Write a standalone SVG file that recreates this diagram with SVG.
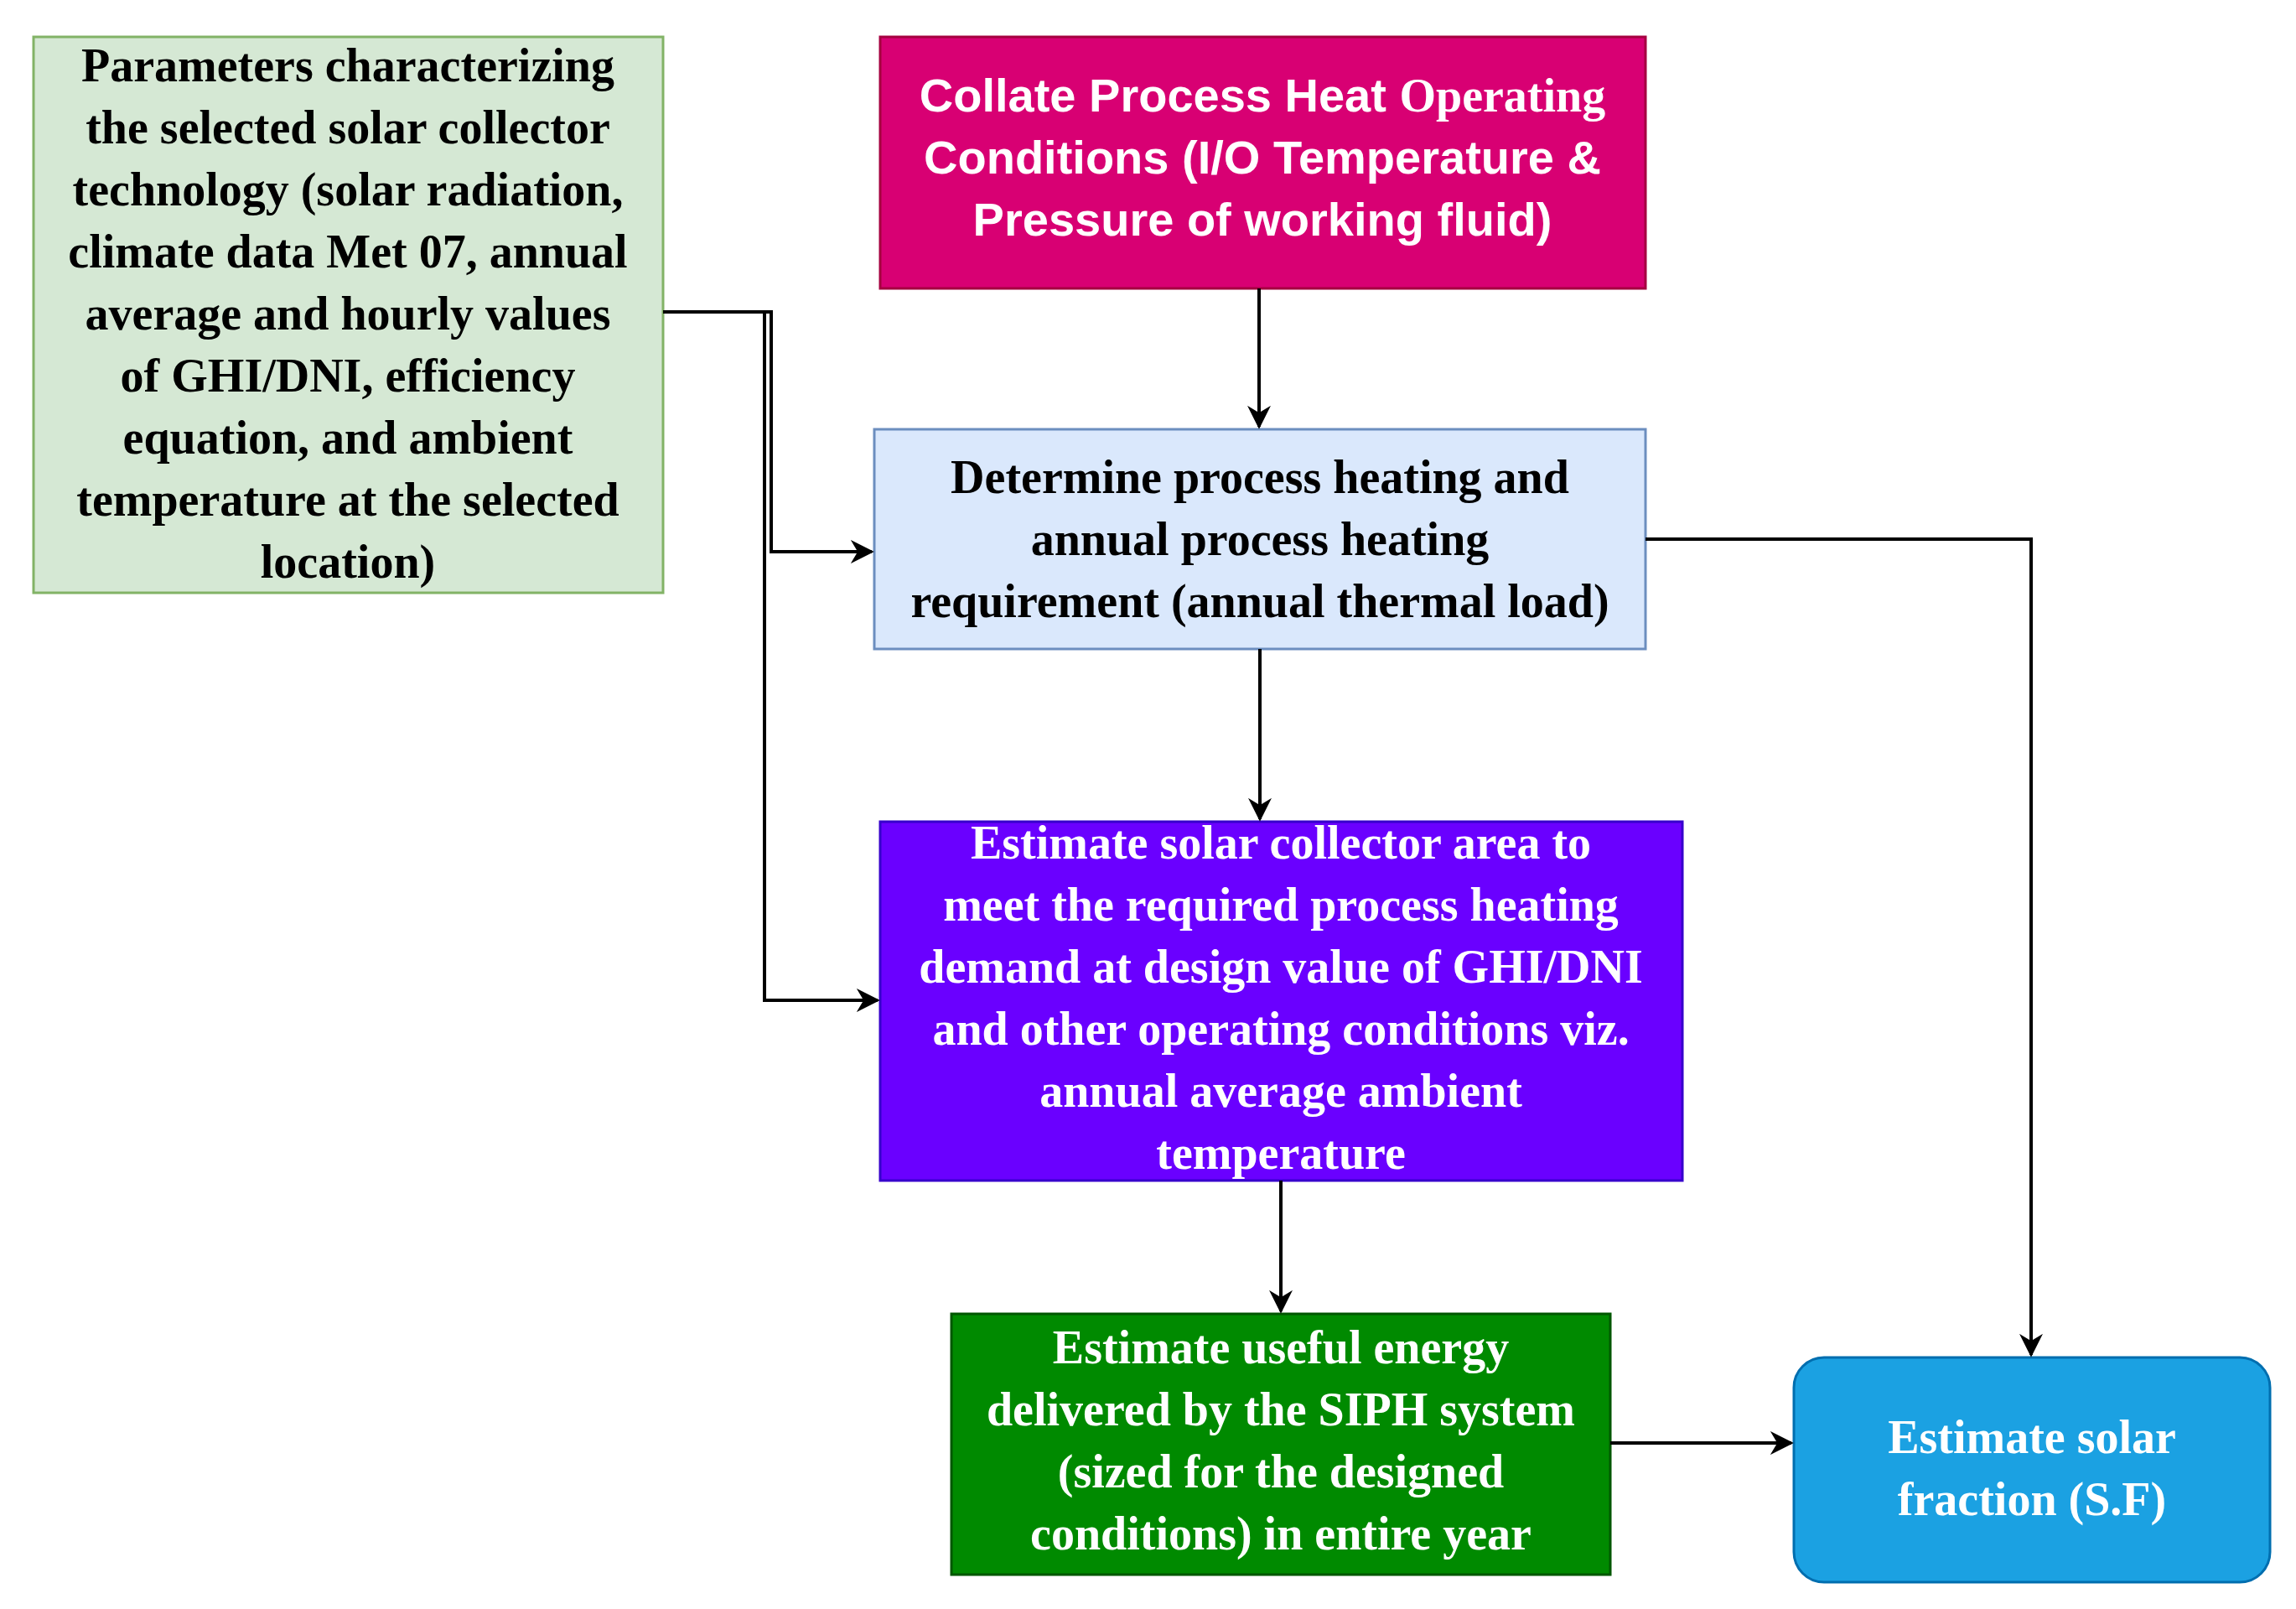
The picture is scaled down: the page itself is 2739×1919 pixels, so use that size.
<svg xmlns="http://www.w3.org/2000/svg" width="2739" height="1919" viewBox="0 0 2739 1919">
<style>
.t{font-family:"Liberation Serif",serif;font-weight:bold;font-size:56px;text-anchor:middle}
.a{font-family:"Liberation Sans",sans-serif;font-weight:bold;font-size:56px;text-anchor:middle;fill:#fff}
.c{fill:none;stroke:#000;stroke-width:4}
</style>
<defs><marker id="m" viewBox="0 0 10 10" refX="9" refY="5" markerWidth="7" markerHeight="7" orient="auto"><path d="M0,0 L10,5 L0,10 L3,5 z" fill="#000"/></marker></defs>
<rect width="2739" height="1919" fill="#fff"/>
<g id="n1"><rect x="40" y="44" width="751" height="663" fill="#d5e8d4" stroke="#82b366" stroke-width="3"/>
<text class="t" x="415"><tspan x="415" y="97">Parameters characterizing</tspan><tspan x="415" y="171">the selected solar collector</tspan><tspan x="415" y="245">technology (solar radiation,</tspan><tspan x="415" y="319">climate data Met 07, annual</tspan><tspan x="415" y="393">average and hourly values</tspan><tspan x="415" y="467">of GHI/DNI, efficiency</tspan><tspan x="415" y="541">equation, and ambient</tspan><tspan x="415" y="615">temperature at the selected</tspan><tspan x="415" y="689">location)</tspan></text></g>
<g id="n2"><rect x="1050" y="44" width="913" height="300" fill="#d80073" stroke="#a50040" stroke-width="3"/>
<text class="a"><tspan x="1506" y="133">Collate Process Heat <tspan font-family="Liberation Serif,serif">Operating</tspan></tspan><tspan x="1506" y="207">Conditions (I/O Temperature &amp;</tspan><tspan x="1506" y="281">Pressure of working fluid)</tspan></text></g>
<g id="n3"><rect x="1043" y="512" width="920" height="262" fill="#dae8fc" stroke="#6c8ebf" stroke-width="3"/>
<text class="t"><tspan x="1503" y="588">Determine process heating and</tspan><tspan x="1503" y="662">annual process heating</tspan><tspan x="1503" y="736">requirement (annual thermal load)</tspan></text></g>
<g id="n4"><rect x="1050" y="980" width="957" height="428" fill="#6a00ff" stroke="#3700cc" stroke-width="3"/>
<text class="t" fill="#fff"><tspan x="1528" y="1024">Estimate solar collector area to</tspan><tspan x="1528" y="1098">meet the required process heating</tspan><tspan x="1528" y="1172">demand at design value of GHI/DNI</tspan><tspan x="1528" y="1246">and other operating conditions viz.</tspan><tspan x="1528" y="1320">annual average ambient</tspan><tspan x="1528" y="1394">temperature</tspan></text></g>
<g id="n5"><rect x="1135" y="1567" width="786" height="311" fill="#008a00" stroke="#005700" stroke-width="3"/>
<text class="t" fill="#fff"><tspan x="1528" y="1626">Estimate useful energy</tspan><tspan x="1528" y="1700">delivered by the SIPH system</tspan><tspan x="1528" y="1774">(sized for the designed</tspan><tspan x="1528" y="1848">conditions) in entire year</tspan></text></g>
<g id="n6"><rect x="2140" y="1619" width="568" height="268" rx="36" fill="#1ba1e2" stroke="#006eaf" stroke-width="3"/>
<text class="t" fill="#fff"><tspan x="2424" y="1733">Estimate solar</tspan><tspan x="2424" y="1807">fraction (S.F)</tspan></text></g>
<g id="connectors">
<path class="c" marker-end="url(#m)" d="M791,372 H920 V658 H1040"/>
<path class="c" marker-end="url(#m)" d="M791,372 H912 V1193 H1047"/>
<path class="c" marker-end="url(#m)" d="M1502,344 V509"/>
<path class="c" marker-end="url(#m)" d="M1503,774 V977"/>
<path class="c" marker-end="url(#m)" d="M1963,643 H2423 V1616"/>
<path class="c" marker-end="url(#m)" d="M1528,1408 V1564"/>
<path class="c" marker-end="url(#m)" d="M1921,1721 H2137"/>
</g>
</svg>
